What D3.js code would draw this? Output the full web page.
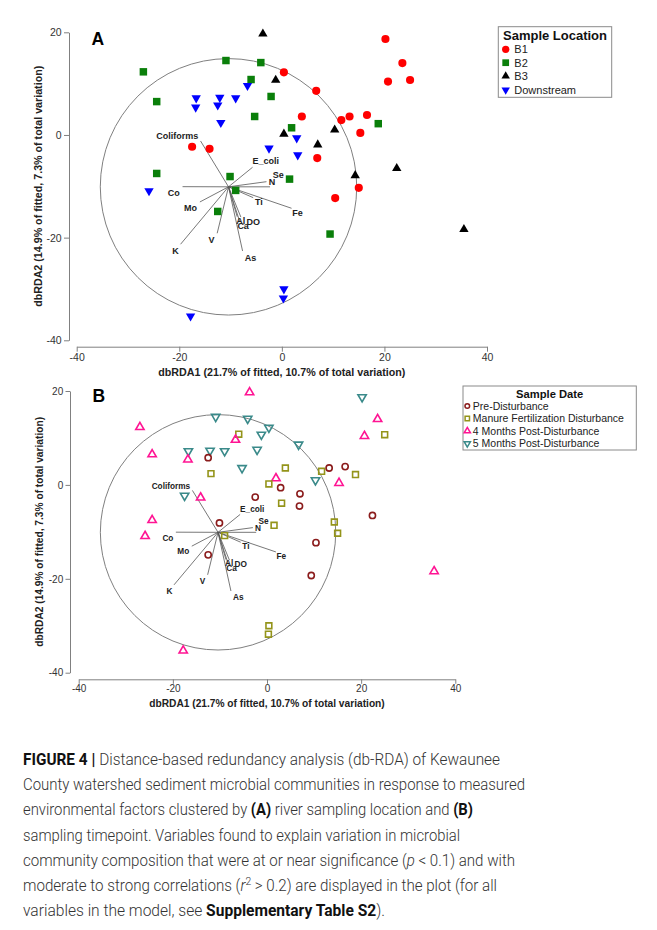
<!DOCTYPE html>
<html><head><meta charset="utf-8">
<script src="https://cdn.jsdelivr.net/npm/d3@7"></script>
<style>body{margin:0;background:#fff} svg{display:block}</style>
</head><body>
<svg id="fig" width="657" height="930"></svg>
<script>
// ---------------- DATA ----------------
const xTicks = [-40, -20, 0, 20, 40];
const yTicks = [20, 0, -20, -40];
const locations = ["B1", "B2", "B3", "Downstream"];
const dates = ["Pre-Disturbance", "Manure Fertilization Disturbance", "4 Months Post-Disturbance", "5 Months Post-Disturbance"];

const sampleX = [
  20.2, 23.5, 20.7, 25.0, 0.4, 6.7, 3.9, 11.6, 13.2, 16.6, 15.3, 6.9, 15.0, 10.4, -17.5, -14.1,
  -27.0, -24.4, -10.9, -4.1, -6.0, -2.1, -5.3, 1.9, 18.8, -24.4, -10.1, -9.0, 1.5, -12.5, 9.4,
  -3.7, -1.2, 0.4, 10.3, 7.0, 22.4, 14.3, 35.5,
  -6.7, -16.7, -12.1, -9.0, -16.8, -12.5, -11.9, -2.5, 2.9, 3.1, -25.9, -17.8, 0.4, 0.3
];
const sampleY = [
  18.7, 14.0, 10.4, 10.7, 12.2, 8.6, 3.6, 2.9, 3.6, 3.9, 0.4, -4.5, -10.3, -12.3, -2.3, -2.7,
  12.3, 6.5, 14.5, 14.1, 10.8, 7.5, 3.6, 1.4, 2.2, -7.5, -8.1, -10.8, -8.6, -14.9, -19.3,
  19.7, 10.7, 0.2, 1.0, -1.9, -6.5, -7.9, -18.4,
  9.6, 7.2, 7.3, 7.2, 5.4, 5.8, 2.4, -2.6, -0.6, -3.9, -10.9, -35.3, -30.0, -31.8
];
const sampleLocation = [
  "B1","B1","B1","B1","B1","B1","B1","B1","B1","B1","B1","B1","B1","B1","B1","B1",
  "B2","B2","B2","B2","B2","B2","B2","B2","B2","B2","B2","B2","B2","B2","B2",
  "B3","B3","B3","B3","B3","B3","B3","B3",
  "Downstream","Downstream","Downstream","Downstream","Downstream","Downstream","Downstream",
  "Downstream","Downstream","Downstream","Downstream","Downstream","Downstream","Downstream"
];
// 0 Pre, 1 Manure, 2 4 Months, 3 5 Months
const sampleDate = [
  3, 2, 2, 1, 3, 3, 1, 1, 0, 0, 2, 0, 1, 0, 3, 2,
  2, 2, 3, 3, 1, 3, 3, 2, 1, 2, 0, 1, 1, 0, 0,
  2, 3, 1, 3, 0, 0, 1, 2,
  2, 3, 3, 3, 2, 0, 1, 0, 0, 1, 2, 2, 1, 1
];

const vectorNames = ["Coliforms", "E_coli", "N", "Se", "Co", "Mo", "K", "V", "As", "Al", "DO", "Ca", "Ti", "Fe"];
const vectorX = [-15.85, -5.71, -2.3, -3.0, -19.36, -15.98, -19.75, -12.61, -7.66, -8.71, -7.99, -8.19, -5.59, 1.89];
const vectorY = [-1.17, -6.29, -10.1, -9.1, -10.07, -13.05, -21.29, -19.15, -22.6, -15.92, -16.0, -16.95, -12.21, -14.28];
const vectorOrigin = [-10.4, -10.1];
const circleRadius = 25;

const xTitle = "dbRDA1 (21.7% of fitted, 10.7% of total variation)";
const yTitle = "dbRDA2 (14.9% of fitted, 7.3% of total variation)";
const legendTitles = ["Sample Location", "Sample Date"];

// ---------------- STYLE / LAYOUT ----------------
const FONT = "'Liberation Sans', Arial, Helvetica, sans-serif";
const locColor = {"B1":"#ff0000","B2":"#0a7f0a","B3":"#000000","Downstream":"#0000ff"};
const dateColor = ["#8b1c1c", "#94941a", "#ff1493", "#3a8a8a"];
// label nudges in px (panel A scale): [dx, dy of text centre], anchor
const labelNudge = {
  "Coliforms":[-2.4,-5,"end"], "E_coli":[0,-6,"start"], "N":[2,-5,"middle"], "Se":[11.7,-6.7,"middle"],
  "Co":[-8.7,6,"middle"], "Mo":[-9.3,5.7,"middle"], "K":[-5,6.7,"middle"], "V":[-5.6,6.7,"middle"],
  "As":[8,6.7,"middle"], "Al":[3.5,4.3,"middle"], "DO":[12.3,4.7,"middle"], "Ca":[3.3,4,"middle"],
  "Ti":[5.7,4.6,"middle"], "Fe":[6,5,"middle"]
};

const svg = d3.select("#fig");
svg.append("rect").attr("width",657).attr("height",930).attr("fill","#fff");

const samples = sampleX.map((x,i)=>({x, y:sampleY[i], loc:sampleLocation[i], date:sampleDate[i]}));
const vectors = vectorNames.map((n,i)=>({name:n, x:vectorX[i], y:vectorY[i]}));

const panels = [
  {key:"A", mode:"loc", xr:[76.7,487], yr:[340.3,32.3], yAxisX:69, xAxisY:346.7, tick:5, k:1,
   tickFont:10.5, titleFont:10.7, xTitleY:375.5, yTitleX:41.5, letterX:91.5, letterY:45,
   legend:{x0:498.3,y0:26.7,x1:611.7,y1:97.3, titleY:39.5, titleFont:13, rows:[49.3,62.7,76,90], symX:505.7, textX:514.3, font:11}},
  {key:"B", mode:"date", xr:[78.7,455.3], yr:[672.7,391], yAxisX:70, xAxisY:679.3, tick:4.5, k:0.917,
   tickFont:10, titleFont:10.2, xTitleY:707, yTitleX:42.5, letterX:92.5, letterY:401.7,
   legend:{x0:463,y0:386,x1:636.3,y1:450, titleY:398, titleFont:11.2, rows:[406,418.5,431,443.5], symX:467.3, textX:472.8, font:10.5}}
];

function locSymbol(loc, scale){
  const s = scale;
  if (loc==="B1") return {d:d3.symbol().type(d3.symbolCircle).size(52*s*s)(), rot:0};
  if (loc==="B2") return {d:d3.symbol().type(d3.symbolSquare).size(56*s*s)(), rot:0};
  if (loc==="B3") return {d:d3.symbol().type(d3.symbolTriangle).size(38*s*s)(), rot:0};
  return {d:d3.symbol().type(d3.symbolTriangle).size(38*s*s)(), rot:180};
}
function dateSymbol(di, scale){
  const s = scale;
  if (di===0) return {d:d3.symbol().type(d3.symbolCircle).size(30*s*s)(), rot:0};
  if (di===1) return {d:d3.symbol().type(d3.symbolSquare).size(34*s*s)(), rot:0};
  if (di===2) return {d:d3.symbol().type(d3.symbolTriangle).size(30*s*s)(), rot:0};
  return {d:d3.symbol().type(d3.symbolTriangle).size(30*s*s)(), rot:180};
}

panels.forEach(p=>{
  const g = svg.append("g");
  const x = d3.scaleLinear().domain([-40,40]).range(p.xr);
  const y = d3.scaleLinear().domain([-40,20]).range(p.yr);

  // axes
  const xa = g.append("g").attr("transform",`translate(0,${p.xAxisY})`)
    .call(d3.axisBottom(x).tickValues(xTicks).tickSize(p.tick).tickSizeOuter(0).tickPadding(1.5).tickFormat(d3.format("d")));
  const ya = g.append("g").attr("transform",`translate(${p.yAxisX},0)`)
    .call(d3.axisLeft(y).tickValues(yTicks).tickSize(p.tick).tickSizeOuter(0).tickPadding(2.3).tickFormat(d3.format("d")));
  [xa,ya].forEach(a=>{
    a.select(".domain").attr("stroke","#808080").attr("stroke-width",1);
    a.selectAll(".tick line").attr("stroke","#808080").attr("stroke-width",1);
    a.selectAll(".tick text").attr("fill","#333").attr("font-family",FONT).attr("font-size",p.tickFont)
      .text(d=>String(d).replace("\u2212","-"));
  });

  // titles
  g.append("text").attr("x",(p.xr[0]+p.xr[1])/2).attr("y",p.xTitleY).attr("text-anchor","middle")
    .attr("font-family",FONT).attr("font-weight","bold").attr("font-size",p.titleFont).attr("fill","#222").text(xTitle);
  const ycen = (p.yr[0]+p.yr[1])/2;
  g.append("text").attr("transform",`translate(${p.yTitleX},${ycen}) rotate(-90)`).attr("text-anchor","middle")
    .attr("font-family",FONT).attr("font-weight","bold").attr("font-size",p.titleFont).attr("fill","#222").text(yTitle);

  // panel letter
  g.append("text").attr("x",p.letterX).attr("y",p.letterY).attr("font-family",FONT).attr("font-weight","bold")
    .attr("font-size",17.5).attr("fill","#000").text(p.key);

  // circle
  const cx = x(vectorOrigin[0]), cy = y(vectorOrigin[1]);
  g.append("circle").attr("cx",cx).attr("cy",cy).attr("r",x(circleRadius)-x(0))
    .attr("fill","none").attr("stroke","#808080").attr("stroke-width",1);

  // vectors
  g.selectAll(".vec").data(vectors).join("line")
    .attr("x1",cx).attr("y1",cy).attr("x2",d=>x(d.x)).attr("y2",d=>y(d.y))
    .attr("stroke","#555").attr("stroke-width",0.8);

  // points
  const pts = g.selectAll(".pt").data(samples).join("path")
    .attr("transform",d=>{
      const sym = p.mode==="loc" ? locSymbol(d.loc,1) : dateSymbol(d.date,1);
      return `translate(${x(d.x)},${y(d.y)}) rotate(${sym.rot})`;
    })
    .attr("d",d=> (p.mode==="loc" ? locSymbol(d.loc,1) : dateSymbol(d.date,1)).d);
  if (p.mode==="loc"){
    pts.attr("fill",d=>locColor[d.loc]).attr("stroke","none");
  } else {
    pts.attr("fill","none").attr("stroke",d=>dateColor[d.date]).attr("stroke-width",1.6);
  }

  // vector labels
  g.selectAll(".vl").data(vectors).join("text")
    .attr("x",d=>x(d.x)+labelNudge[d.name][0]*p.k)
    .attr("y",d=>y(d.y)+labelNudge[d.name][1]*p.k)
    .attr("dy","0.35em")
    .attr("text-anchor",d=>labelNudge[d.name][2])
    .attr("font-family",FONT).attr("font-weight","bold").attr("font-size",9*p.k).attr("fill","#222")
    .text(d=>d.name);

  // legend
  const L = p.legend;
  const lg = g.append("g");
  lg.append("rect").attr("x",L.x0).attr("y",L.y0).attr("width",L.x1-L.x0).attr("height",L.y1-L.y0)
    .attr("fill","#fff").attr("stroke","#8a8a8a").attr("stroke-width",1);
  lg.append("text").attr("x",(L.x0+L.x1)/2).attr("y",L.titleY).attr("text-anchor","middle")
    .attr("font-family",FONT).attr("font-weight","bold").attr("font-size",L.titleFont).attr("fill","#111")
    .text(p.mode==="loc" ? legendTitles[0] : legendTitles[1]);
  const items = p.mode==="loc" ? locations : dates;
  items.forEach((name,i)=>{
    const sym = p.mode==="loc" ? locSymbol(name,0.9) : dateSymbol(i,0.75);
    const sp = lg.append("path").attr("d",sym.d)
      .attr("transform",`translate(${L.symX},${L.rows[i]}) rotate(${sym.rot})`);
    if (p.mode==="loc") sp.attr("fill",locColor[name]);
    else sp.attr("fill","none").attr("stroke",dateColor[i]).attr("stroke-width",1.5);
    lg.append("text").attr("x",L.textX).attr("y",L.rows[i]).attr("dy","0.36em")
      .attr("font-family",FONT).attr("font-size",L.font).attr("fill","#222").text(name);
  });
});

// ---------------- CAPTION ----------------
const captionLines = [
  [["FIGURE 4 | ","b"],["Distance-based redundancy analysis (db-RDA) of Kewaunee",""]],
  [["County watershed sediment microbial communities in response to measured",""]],
  [["environmental factors clustered by ",""],["(A)","b"],[" river sampling location and ",""],["(B)","b"]],
  [["sampling timepoint. Variables found to explain variation in microbial",""]],
  [["community composition that were at or near significance (",""],["p","i"],[" < 0.1) and with",""]],
  [["moderate to strong correlations (",""],["r","i"],["2","sup"],[" > 0.2) are displayed in the plot (for all",""]],
  [["variables in the model, see ",""],["Supplementary Table S2","b"],[").",""]]
];
const captionWidths = [477, 502, 450, 437, 492, 474, 362];
const capX = 23, capY0 = 765, capStep = 25.2;
captionLines.forEach((segs,li)=>{
  const t = svg.append("text").attr("x",capX).attr("y",capY0+li*capStep)
    .attr("font-family","Roboto, 'Liberation Sans', sans-serif").attr("font-size",16).attr("font-weight",300)
    .attr("fill","#333").attr("textLength",captionWidths[li]).attr("lengthAdjust","spacingAndGlyphs");
  let raised = false;
  segs.forEach(([txt,st])=>{
    const ts = t.append("tspan").text(txt);
    if (st==="b") ts.attr("font-weight","bold").attr("fill","#111");
    if (st==="i") ts.attr("font-style","italic");
    if (st==="sup"){ ts.attr("font-size",11).attr("dy",-6); raised = true; }
    else if (raised){ ts.attr("dy",6); raised = false; }
  });
});
</script>
</body></html>
